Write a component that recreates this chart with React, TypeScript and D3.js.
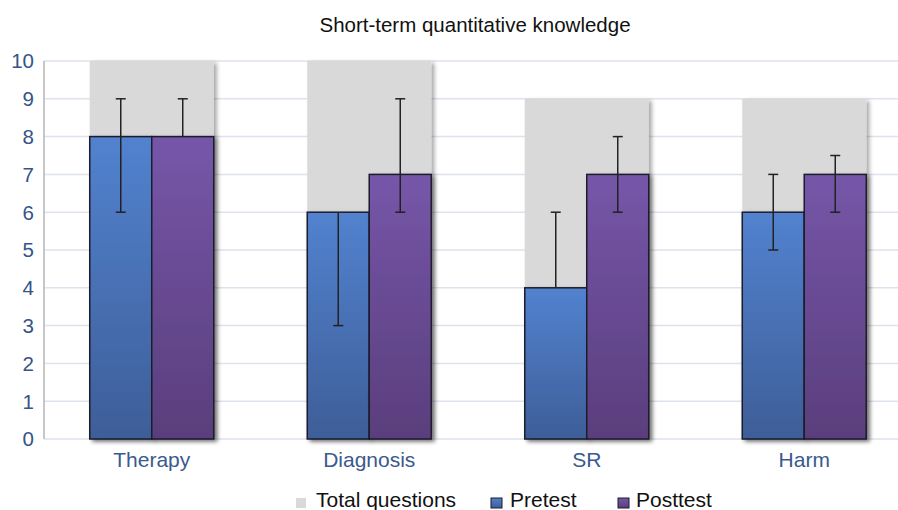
import React from 'react'
import * as d3 from 'd3'

// chart data
const categories = ['Therapy', 'Diagnosis', 'SR', 'Harm']
const totalQuestions = [10, 10, 9, 9]
const pretest = [8, 6, 4, 6]
const posttest = [8, 7, 7, 7]
const pretestLow = [6, 3, 4, 5]
const pretestHigh = [9, 6, 6, 7]
const posttestLow = [8, 6, 6, 6]
const posttestHigh = [9, 9, 8, 7.5]
const yTicks = [0, 1, 2, 3, 4, 5, 6, 7, 8, 9, 10]

const W = 898
const H = 510

export default function App() {
    const x = d3.scaleBand<string>()
        .domain(categories)
        .range([43, 913])
        .paddingInner(0.43)
        .paddingOuter(0.215)

    const inner = d3.scaleBand<string>()
        .domain(['pre', 'post'])
        .range([0, x.bandwidth()])

    const y = d3.scaleLinear().domain([0, 10]).range([439, 61])

    const series = [
        { key: 'pre', values: pretest, low: pretestLow, high: pretestHigh, fill: 'url(#gradPre)' },
        { key: 'post', values: posttest, low: posttestLow, high: posttestHigh, fill: 'url(#gradPost)' },
    ]

    const cap = 5
    const font = 'Liberation Sans, Arial, sans-serif'

    return (
        <svg width={W} height={H} style={{ position: 'absolute', left: 0, top: 0, background: 'white' }}
            fontFamily={font}>
            <defs>
                <linearGradient id="gradPre" x1="0" y1="0" x2="0" y2="1">
                    <stop offset="0%" stopColor="#5282cf" />
                    <stop offset="100%" stopColor="#3e5e98" />
                </linearGradient>
                <linearGradient id="gradPost" x1="0" y1="0" x2="0" y2="1">
                    <stop offset="0%" stopColor="#7656a9" />
                    <stop offset="100%" stopColor="#5a3e7c" />
                </linearGradient>
                <filter id="shadow" x="-10%" y="-10%" width="130%" height="130%">
                    <feDropShadow dx="3" dy="2" stdDeviation="2" floodColor="#000" floodOpacity="0.35" />
                </filter>
            </defs>

            <text x={475} y={32} textAnchor="middle" fontSize={20.5} fill="#111">
                Short-term quantitative knowledge
            </text>

            {/* grid */}
            {yTicks.map(t => (
                <line key={t} x1={44} x2={W} y1={y(t)} y2={y(t)} stroke="#dde3ec" strokeWidth={1.5} />
            ))}
            <line x1={44} x2={44} y1={y(10)} y2={y(0)} stroke="#b5b5b5" strokeWidth={1.5} />

            {yTicks.map(t => (
                <text key={t} x={34} y={y(t)} dy="0.36em" textAnchor="end" fontSize={20.5} fill="#34548a">{t}</text>
            ))}

            {/* total questions background */}
            {categories.map((c, i) => (
                <rect key={c} x={x(c)} y={y(totalQuestions[i])} width={x.bandwidth()}
                    height={y(0) - y(totalQuestions[i])} fill="#d9d9d9" filter="url(#shadow)" />
            ))}

            {/* bars */}
            {series.map(s => categories.map((c, i) => (
                <rect key={s.key + c} x={(x(c) ?? 0) + (inner(s.key) ?? 0)} y={y(s.values[i])}
                    width={inner.bandwidth()} height={y(0) - y(s.values[i])}
                    fill={s.fill} stroke="#1c1c2c" strokeWidth={1.5} filter="url(#shadow)" />
            )))}

            {/* error bars */}
            {series.map(s => categories.map((c, i) => {
                const cx = (x(c) ?? 0) + (inner(s.key) ?? 0) + inner.bandwidth() / 2
                const lo = s.low[i]
                const hi = s.high[i]
                return (
                    <g key={'e' + s.key + c} stroke="#222" strokeWidth={1.5}>
                        <line x1={cx} x2={cx} y1={y(lo)} y2={y(hi)} />
                        {hi !== s.values[i] && <line x1={cx - cap} x2={cx + cap} y1={y(hi)} y2={y(hi)} />}
                        {lo !== s.values[i] && <line x1={cx - cap} x2={cx + cap} y1={y(lo)} y2={y(lo)} />}
                    </g>
                )
            }))}

            {categories.map(c => (
                <text key={c} x={(x(c) ?? 0) + x.bandwidth() / 2} y={467} textAnchor="middle"
                    fontSize={21} fill="#3a5a8e">{c}</text>
            ))}

            {/* legend */}
            <g fontSize={21} fill="#111">
                <rect x={296} y={498} width={10} height={10} fill="#d9d9d9" />
                <text x={316} y={507}>Total questions</text>
                <rect x={491} y={498} width={11} height={10} fill="url(#gradPre)" stroke="#1c1c2c" />
                <text x={510} y={507}>Pretest</text>
                <rect x={618} y={498} width={11} height={10} fill="url(#gradPost)" stroke="#1c1c2c" />
                <text x={636} y={507}>Posttest</text>
            </g>
        </svg>
    )
}
